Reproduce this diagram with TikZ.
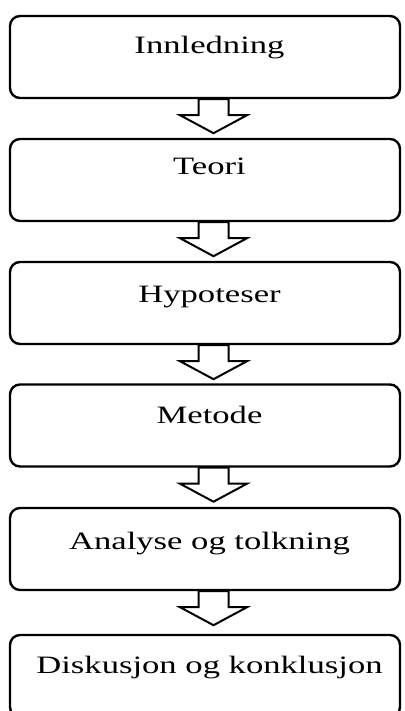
\documentclass[tikz,border=0pt]{standalone}
\usepackage{fontspec}
\setmainfont{Liberation Serif}
\usetikzlibrary{calc}
\newcommand\steplabel[1]{\hspace*{9pt}\scalebox{1.385}[1]{#1}}
\tikzset{
  stepbox/.style={draw=black, line width=2.4pt, rounded corners=10pt,
    minimum width=390pt, inner xsep=0pt, inner ysep=0pt,
    font=\fontsize{25}{30}\selectfont, text=black},
  blockarrow/.style={draw=black, fill=white, line width=2pt, line join=miter}
}
\newcommand\flowarrow[1]{%
  \draw[blockarrow] ($(#1.south)+(-6.5,0)$) -- ++(0,16) -- ++(-18.5,0)
    -- ++(33.5,18) -- ++(33.5,-18) -- ++(-18.5,0) -- ++(0,-16) -- cycle;}
\begin{document}
\begin{tikzpicture}[x=1pt,y=-1pt]
\path[use as bounding box] (0,0) rectangle (404,711);
\clip (0,0) rectangle (404,711);
\node[stepbox, text height=38pt, text depth=44pt] (b1) at (205,57) {\steplabel{Innledning}};
\node[stepbox, text height=36pt, text depth=46pt] (b2) at (205,180) {\steplabel{Teori}};
\node[stepbox, text height=40pt, text depth=42pt] (b3) at (205,303) {\steplabel{Hypoteser}};
\node[stepbox, text height=39pt, text depth=43pt] (b4) at (205,425.5) {\steplabel{Metode}};
\node[stepbox, text height=41pt, text depth=41pt] (b5) at (205,549) {\steplabel{Analyse og tolkning}};
\node[stepbox, text height=38pt, text depth=44pt] (b6) at (205,676) {\steplabel{Diskusjon og konklusjon}};
\flowarrow{b1}
\flowarrow{b2}
\flowarrow{b3}
\flowarrow{b4}
\flowarrow{b5}
\end{tikzpicture}
\end{document}
